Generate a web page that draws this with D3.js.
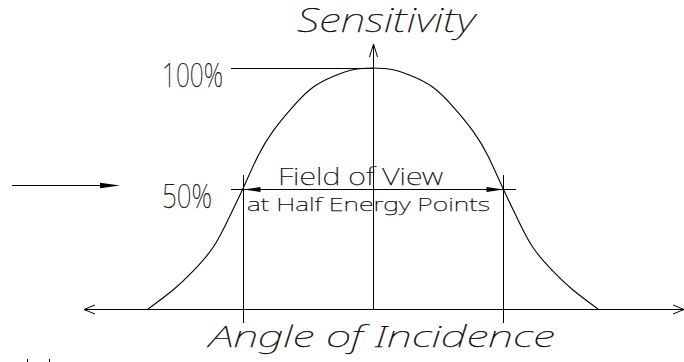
<!DOCTYPE html>
<html><head><meta charset="utf-8">
<script src="https://cdn.jsdelivr.net/npm/d3@7"></script>
<style>html,body{margin:0;padding:0;background:#fff;overflow:hidden} svg{display:block}</style>
</head><body>
<script>
// ---- data ----
const angles      = [-45,-40,-36,-32,-29,-26,-23,-20,-16,-12,-8,-4,0,4,8,12,16,20,23,26,29,32,36,40,45];
const sensitivity = [0,7.9,15.7,25.5,37,50,63.5,73.8,84,92,96.5,99.3,100,99.3,96.5,92,84,73.8,63.5,50,37,25.5,15.7,7.9,0];
const levelValues = [100, 50];
const levelLabels = ["100%", "50%"];
const halfEnergyAngles = [-26, 26];
const yTitle = "Sensitivity";
const xTitle = "Angle of Incidence";
const fovLabels = ["Field of View", "at Half Energy Points"];

const W = 684, H = 362;
const FONT = "'Noto Sans', Roboto, sans-serif";
const WEIGHT = 100;
const svg = d3.select("body").append("svg").attr("width", W).attr("height", H);

const x = d3.scaleLinear().domain([-45, 45]).range([148, 598]);
const y = d3.scaleLinear().domain([0, 100]).range([309, 68]);
const cx = Math.round(x(0)) + 0.5;
const y0 = Math.round(y(0)) + 0.5;

const g = svg.append("g").attr("stroke", "#000").attr("stroke-width", 1).attr("fill", "none");

function label(xx, yy, size, len, txt, italic) {
  svg.append("text").attr("x", xx).attr("y", yy)
    .attr("font-family", FONT).attr("font-weight", WEIGHT).attr("font-size", size)
    .attr("font-style", italic ? "italic" : "normal")
    .attr("textLength", len).attr("lengthAdjust", "spacingAndGlyphs")
    .attr("fill", "#000").attr("stroke", "#000").attr("stroke-width", 0.25)
    .text(txt);
}

// x axis with open arrows at both ends
g.append("line").attr("x1", 84).attr("x2", 684).attr("y1", y0).attr("y2", y0);
g.append("path").attr("d", `M95,${y0-4.5}L84,${y0}L95,${y0+4.5}`);
g.append("path").attr("d", `M673,${y0-4.5}L684,${y0}L673,${y0+4.5}`);

// vertical sensitivity axis with open arrow
const topY = 44;
g.append("line").attr("x1", cx).attr("x2", cx).attr("y1", y0).attr("y2", topY);
g.append("path").attr("d", `M${cx-4},${topY+13}L${cx},${topY}L${cx+4},${topY+13}`);

// level lines (100% and 50%)
levelValues.forEach((v, i) => {
  const yy = Math.round(y(v)) + 0.5;
  const xEnd = v === 100 ? cx : Math.round(x(halfEnergyAngles[1])) + 13;
  g.append("line").attr("x1", 231).attr("x2", xEnd).attr("y1", yy).attr("y2", yy);
  label(162, yy + 18, 34, v === 100 ? 61 : 50, levelLabels[i], false);
});

// half energy verticals
const yHalf = Math.round(y(50)) + 0.5;
halfEnergyAngles.forEach(a => {
  const xx = Math.round(x(a)) + 0.5;
  g.append("line").attr("x1", xx).attr("x2", xx).attr("y1", 175).attr("y2", 323);
});

// filled arrowheads of field of view dimension
const xl = Math.round(x(halfEnergyAngles[0])) + 0.5;
const xr = Math.round(x(halfEnergyAngles[1])) + 0.5;
svg.append("path").attr("fill", "#000")
  .attr("d", `M${xl},${yHalf}L${xl+17},${yHalf-2.5}L${xl+17},${yHalf+2.5}Z`);
svg.append("path").attr("fill", "#000")
  .attr("d", `M${xr},${yHalf}L${xr-17},${yHalf-2.5}L${xr-17},${yHalf+2.5}Z`);

// left pointer arrow
g.append("line").attr("x1", 12).attr("x2", 110).attr("y1", 185.5).attr("y2", 185.5);
svg.append("path").attr("fill", "#000").attr("d", `M120,185.5L100,182.8L100,188.2Z`);

// the sensitivity curve
const line = d3.line().x((d, i) => x(angles[i])).y(d => y(d)).curve(d3.curveNatural);
g.append("path").attr("d", line(sensitivity)).attr("stroke-width", 1.1);

// field of view labels
label(278, 185, 23, 165, fovLabels[0], false);
label(247, 210.5, 19, 243, fovLabels[1], false);

// titles
label(297, 32, 33, 178, yTitle, true);
label(209, 347, 30, 346, xTitle, true);

// small marks at the bottom-left edge
[27.5, 49.5].forEach(xx => g.append("line").attr("x1", xx).attr("x2", xx).attr("y1", 359).attr("y2", 362));
</script>
</body></html>
